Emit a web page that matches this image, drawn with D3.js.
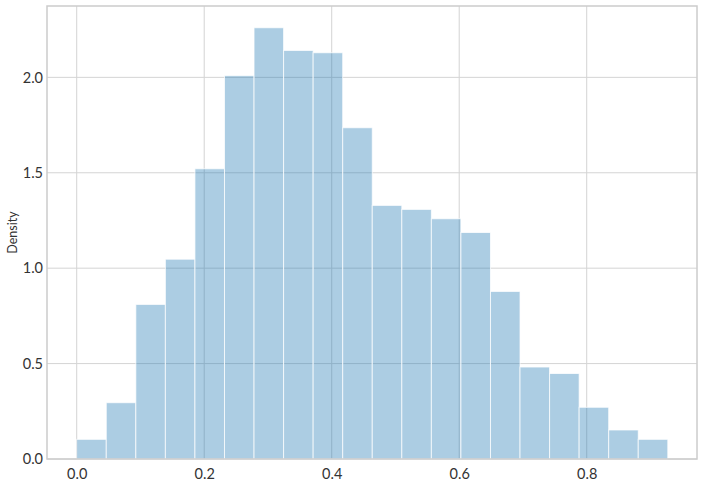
<!DOCTYPE html>
<html>
<head>
<meta charset="utf-8">
<script src="https://cdn.jsdelivr.net/npm/d3@7"></script>
<style>
  body { margin: 0; background: #fff; }
  svg { display: block; font-family: Lato, 'Open Sans', sans-serif; }
</style>
</head>
<body>
<svg id="chart" width="704" height="484"></svg>
<script>
// histogram bins (left edge) and density values
const binStart = 0.0;
const binWidth = 0.04636;
const density = [0.103, 0.295, 0.81, 1.047, 1.521, 2.009, 2.26, 2.141, 2.129, 1.736,
                 1.329, 1.308, 1.259, 1.187, 0.878, 0.482, 0.448, 0.271, 0.152, 0.103];
const xTicks = [0.0, 0.2, 0.4, 0.6, 0.8];
const yTicks = [0.0, 0.5, 1.0, 1.5, 2.0];

const margin = { top: 6, right: 7, bottom: 25, left: 47 };
const width = 704 - margin.left - margin.right,
	height = 484 - margin.top - margin.bottom;

const svg = d3.select('#chart');
const g = svg.append('g')
	.attr('transform', 'translate(' + margin.left + ',' + margin.top + ')');

const x = d3.scaleLinear().domain([-0.0466, 0.973]).range([0, width]);
const y = d3.scaleLinear().domain([0, 2.374]).range([height, 0]);

// grid
g.append('g').selectAll('line.gx')
	.data(xTicks).join('line')
	.attr('x1', d => x(d)).attr('x2', d => x(d))
	.attr('y1', 0).attr('y2', height)
	.attr('stroke', '#d4d4d4').attr('stroke-width', 1);
g.append('g').selectAll('line.gy')
	.data(yTicks).join('line')
	.attr('x1', 0).attr('x2', width)
	.attr('y1', d => y(d)).attr('y2', d => y(d))
	.attr('stroke', '#d4d4d4').attr('stroke-width', 1);

// bars
g.append('g').selectAll('rect')
	.data(density).join('rect')
	.attr('x', (d, i) => x(binStart + i * binWidth))
	.attr('width', (d, i) => x(binStart + (i + 1) * binWidth) - x(binStart + i * binWidth))
	.attr('y', d => y(d))
	.attr('height', d => y(0) - y(d))
	.attr('fill', '#1f77b4')
	.attr('fill-opacity', 0.37)
	.attr('stroke', '#fff')
	.attr('stroke-opacity', 0.75)
	.attr('stroke-width', 1);

// frame
g.append('rect')
	.attr('x', 0).attr('y', 0)
	.attr('width', width).attr('height', height)
	.attr('fill', 'none')
	.attr('stroke', '#cccccc')
	.attr('stroke-width', 1.5);

// axes
const xAxis = d3.axisBottom(x).tickValues(xTicks).tickFormat(d3.format('.1f')).tickSize(0).tickPadding(10);
const yAxis = d3.axisLeft(y).tickValues(yTicks).tickFormat(d3.format('.1f')).tickSize(0).tickPadding(4);

g.append('g').attr('transform', 'translate(0,' + height + ')').call(xAxis)
	.call(s => s.select('.domain').remove())
	.selectAll('text').attr('font-size', 14.5).attr('fill', '#333').attr('font-family', 'Lato, sans-serif');
g.append('g').call(yAxis)
	.call(s => s.select('.domain').remove())
	.selectAll('text').attr('font-size', 14.5).attr('fill', '#333').attr('font-family', 'Lato, sans-serif');

svg.append('text')
	.attr('transform', 'translate(17,' + (margin.top + height / 2) + ') rotate(-90)')
	.attr('text-anchor', 'middle')
	.attr('font-size', 12.5)
	.attr('fill', '#333')
	.text('Density');
</script>
</body>
</html>
